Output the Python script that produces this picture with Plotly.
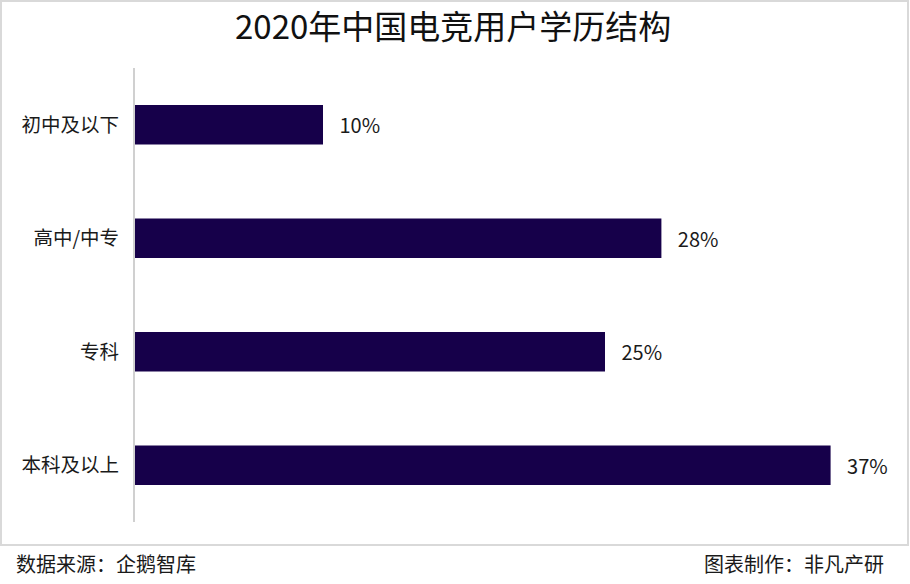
import plotly.graph_objects as go

categories = ["初中及以下", "高中/中专", "专科", "本科及以上"]
values = [10, 28, 25, 37]
value_labels = ["10%", "28%", "25%", "37%"]

title_text = "2020年中国电竞用户学历结构"
source_text = "数据来源：企鹅智库"
maker_text = "图表制作：非凡产研"

FONT = "Noto Sans CJK SC, sans-serif"
BAR_COLOR = "#16004a"

fig = go.Figure()
fig.add_trace(go.Bar(
    y=categories,
    x=values,
    orientation="h",
    marker=dict(color=BAR_COLOR, line=dict(width=0)),
    width=0.35,
    text=["   " + t for t in value_labels],
    textposition="outside",
    textfont=dict(family=FONT, size=20, color="#1a1a1a"),
    cliponaxis=False,
    hoverinfo="skip",
))

W, H = 910, 584
L, R, T, B = 135, 23, 68, 62
pw = W - L - R
ph = H - T - B

def px_x(px):
    return (px - L) / pw

def px_y(py):
    return (H - B - py) / ph

fig.update_layout(
    width=W, height=H,
    margin=dict(l=L, r=R, t=T, b=B),
    paper_bgcolor="white",
    plot_bgcolor="white",
    showlegend=False,
    font=dict(family=FONT, color="#1a1a1a"),
    title=dict(text=title_text, x=0.498, xref="container", xanchor="center",
               y=1 - 27 / H, yanchor="middle",
               font=dict(family=FONT, size=33, color="#111111")),
    xaxis=dict(range=[0, 40], visible=False, fixedrange=True),
    yaxis=dict(
        categoryorder="array",
        categoryarray=categories[::-1],
        range=[-0.5, 3.5],
        showline=True, linecolor="#d0d0d0", linewidth=2,
        showgrid=False, zeroline=False, ticks="",
        ticklabelstandoff=10,
        tickfont=dict(family=FONT, size=19.5, color="#1a1a1a"),
        fixedrange=True,
    ),
    shapes=[dict(
        type="rect", xref="paper", yref="paper",
        x0=px_x(1), x1=px_x(908), y0=px_y(545), y1=px_y(1),
        line=dict(color="#d9d9d9", width=2), fillcolor="rgba(0,0,0,0)",
        layer="below",
    )],
    annotations=[
        dict(text=source_text, xref="paper", yref="paper",
             x=px_x(14), y=px_y(563), xanchor="left", yanchor="middle",
             showarrow=False, font=dict(family=FONT, size=20, color="#1a1a1a")),
        dict(text=maker_text, xref="paper", yref="paper",
             x=px_x(886), y=px_y(563), xanchor="right", yanchor="middle",
             showarrow=False, font=dict(family=FONT, size=20, color="#1a1a1a")),
    ],
)

fig.write_html("out.html", config={"displayModeBar": False},
               post_script="document.body.style.margin='0';")
